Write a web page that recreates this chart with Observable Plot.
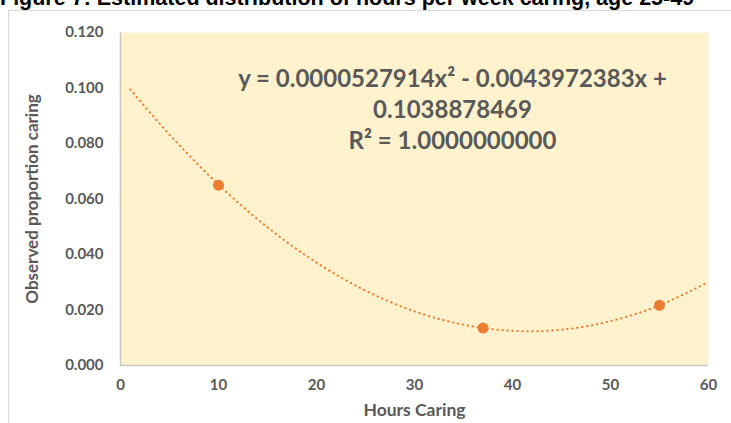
<!DOCTYPE html>
<html><head><meta charset="utf-8">
<script src="https://cdn.jsdelivr.net/npm/d3@7"></script>
<script src="https://cdn.jsdelivr.net/npm/@observablehq/plot@0.6"></script>
<style>
body{margin:0;background:#fff;width:731px;height:423px;overflow:hidden;position:relative;font-family:Lato,sans-serif}
#title{position:absolute;left:0;top:-12px;font:bold 21.5px "Liberation Sans",Arial,sans-serif;line-height:21.5px;white-space:nowrap;color:#000;z-index:2}
#frame{position:absolute;left:8px;top:10px;width:740px;height:430px;border:1px solid #d9d9d9;box-sizing:border-box}
#chart{position:absolute;left:9px;top:11px}
#chart svg text{font-weight:bold}
</style></head><body>
<div id="title">Figure 7: Estimated distribution of hours per week caring, age 25-49</div>
<div id="frame"></div>
<div id="chart"></div>
<script>
// Observed points
const hours = [10, 37, 55];
const proportion = [0.065, 0.0135, 0.0217];
// Dotted trend line
const trendHours = [1, 5, 10, 15, 20, 25, 30, 35, 40, 45, 50, 55, 60];
const trendProportion = [0.0995, 0.0832, 0.0652, 0.0498, 0.0371, 0.0270, 0.0195, 0.0147, 0.0125, 0.0129, 0.0160, 0.0217, 0.0301];
// Axes
const xTicks = [0, 10, 20, 30, 40, 50, 60];
const yTicks = [0, 0.02, 0.04, 0.06, 0.08, 0.10, 0.12];
const xTitle = "Hours Caring";
const yTitle = "Observed proportion caring";
const equationLines = ["y = 0.0000527914x² - 0.0043972383x +", "0.1038878469", "R² = 1.0000000000"];

const points = hours.map((h, i) => ({h, p: proportion[i]}));
const trend = trendHours.map((h, i) => ({h, p: trendProportion[i]}));

const grey = "#595959";
const orange = "#ED7D31";

const chart = Plot.plot({
  width: 722,
  height: 412,
  marginLeft: 111,
  marginRight: 23,
  marginTop: 21,
  marginBottom: 58,
  style: {fontFamily: "Lato, sans-serif", color: grey, background: "transparent", overflow: "visible"},
  x: {domain: [0, 60], ticks: xTicks, label: null},
  y: {domain: [0, 0.12], ticks: yTicks, label: null},
  marks: [
    Plot.frame({fill: "#FFF2CC", stroke: null}),
    Plot.axisX({ticks: xTicks, tickSize: 0, tickPadding: 14, fontSize: 15, fill: grey, label: null}),
    Plot.axisY({ticks: yTicks, tickSize: 0, tickPadding: 17, fontSize: 15, fill: grey, label: null, tickFormat: d3.format(".3f")}),
    Plot.ruleX([0], {stroke: "#c8c8c8", strokeWidth: 1.5}),
    Plot.ruleY([0], {stroke: "#c8c8c8", strokeWidth: 1.5}),
    Plot.line(trend, {x: "h", y: "p", curve: "natural", stroke: orange, strokeWidth: 2, strokeLinecap: "round", strokeDasharray: "0.5 4.5"}),
    Plot.dot(points, {x: "h", y: "p", r: 5.5, fill: orange, stroke: null}),
    Plot.text([equationLines.join("\n")], {frameAnchor: "top", dx: 38, dy: 76, lineAnchor: "middle", lineHeight: 1.29, fontSize: 24, fill: grey}),
    Plot.text([xTitle], {frameAnchor: "bottom", dy: 45, lineAnchor: "middle", fontSize: 17.5, fill: grey}),
    Plot.text([yTitle], {frameAnchor: "left", dx: -88, rotate: -90, textAnchor: "middle", lineAnchor: "middle", fontSize: 17, fill: grey})
  ]
});
document.getElementById("chart").appendChild(chart);
</script>
</body></html>
